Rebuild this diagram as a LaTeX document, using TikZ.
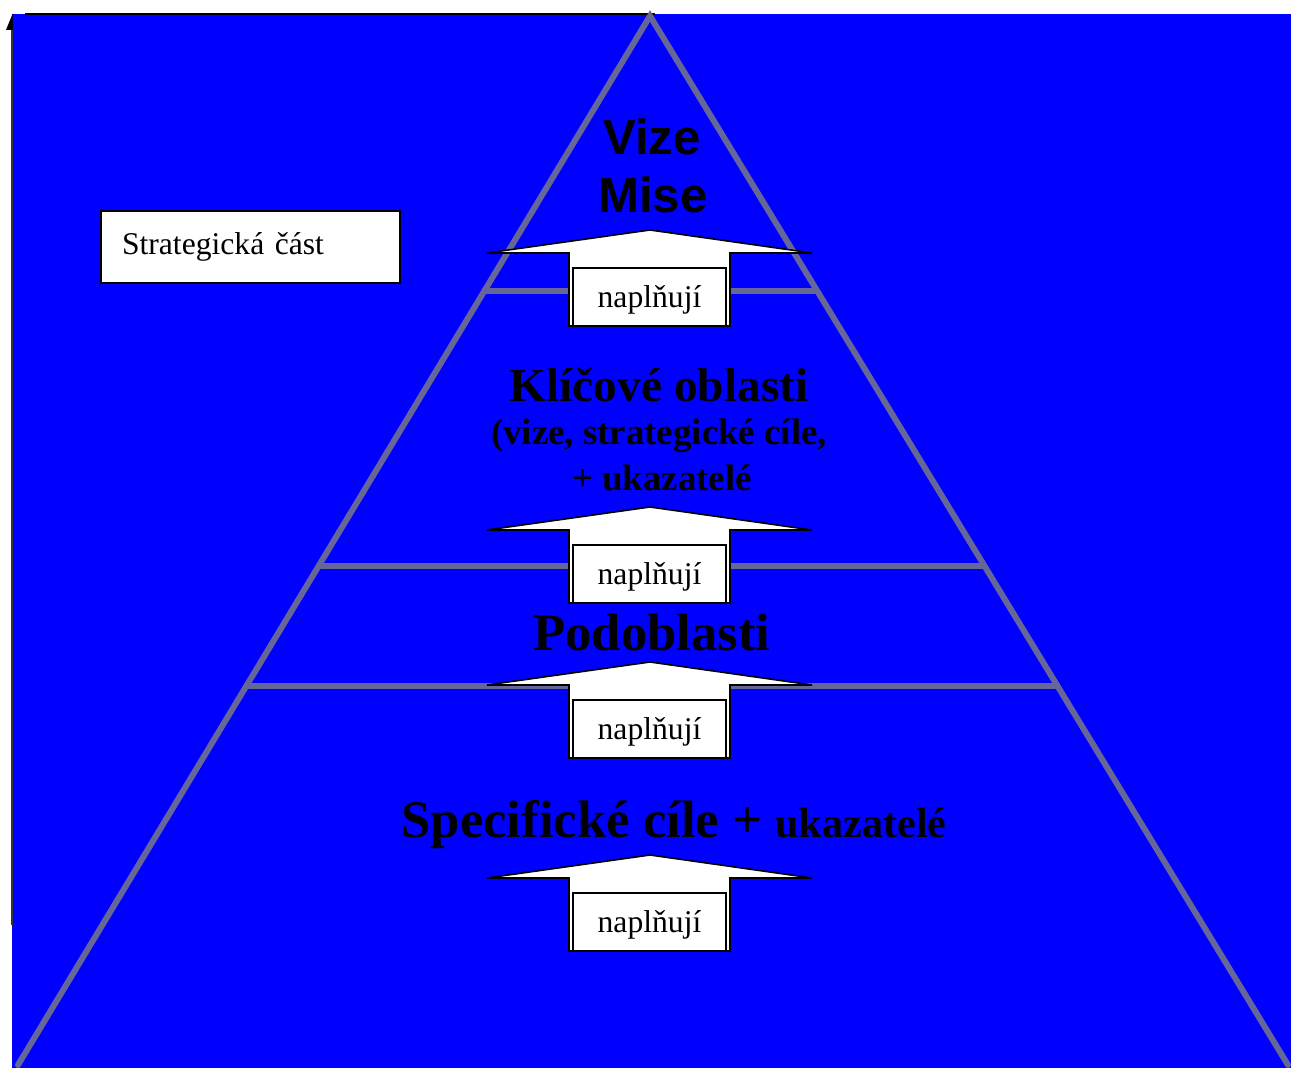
\documentclass[tikz,border=0pt]{standalone}
\usepackage{fontspec}
\setmainfont{Liberation Serif}
\newfontfamily\sansbf{Liberation Sans}
\usetikzlibrary{calc,positioning}
\definecolor{pyrblue}{RGB}{0,0,255}
\definecolor{pyrgray}{RGB}{102,102,153}

\begin{document}
\begin{tikzpicture}[x=0.02cm,y=-0.02cm,
    edge/.style={draw=pyrgray,line width=3.4pt,line cap=round},
    upbox/.style={draw=black,fill=white,line width=0.9pt},
    fillbox/.style={draw=black,fill=white,line width=0.7pt,
        minimum width=3.06cm,minimum height=1.16cm,inner sep=0pt,
        text height=12pt,text depth=0pt,
        font=\fontsize{18}{20}\selectfont},
    level/.style={font=\bfseries\fontsize{27}{30}\selectfont}]

\useasboundingbox (0,0) rectangle (1291,1068);
\fill[pyrblue] (12,14) rectangle (1291,1068);
\draw[black,line width=1.1pt] (25,14) -- (655,14);
\draw[black!80,line width=0.6pt] (12,30) -- (12,925);
\fill[black] (6,30) -- (12.5,14) -- (13,30) -- cycle;

% pyramid
\coordinate (top) at (650,16);
\coordinate (bl) at (18,1065);
\coordinate (br) at (1288,1065);
\draw[edge] (bl) -- (top) -- (br);
\draw[edge] ($(top)!0.262!(bl)$) -- ($(top)!0.262!(br)$);
\draw[edge] ($(top)!0.524!(bl)$) -- ($(top)!0.524!(br)$);
\draw[edge] ($(top)!0.639!(bl)$) -- ($(top)!0.639!(br)$);

% arrows
\foreach \y/\n in {230/1,507/2,662/3,855/4}{
  \draw[upbox] (487,\y+23) -- (650,\y) -- (812,\y+23) -- (730,\y+23)
      -- (730,\y+96) -- (569,\y+96) -- (569,\y+23) -- cycle;
  \node[fillbox] (fill\n) at (649.5,\y+67) {naplňují};
}

\node[font=\sansbf\bfseries\fontsize{28}{30}\selectfont] (vize) at (652,137) {Vize};
\node[font=\sansbf\bfseries\fontsize{28}{30}\selectfont] (mise) at (653,195) {Mise};

\node[level] (klic) at (659,385) {Klíčové oblasti};
\node[level,font=\bfseries\fontsize{21}{24}\selectfont] (klic2) at (659,436) {(vize, strategické cíle,};
\node[level,font=\bfseries\fontsize{21}{24}\selectfont] (klic3) at (662,478) {+ ukazatelé};
\node[level,font=\bfseries\fontsize{30}{32}\selectfont] (podo) at (652,632) {Podoblasti};
\node[level,font=\bfseries\fontsize{30}{32}\selectfont] (spec) at (674,825)
    {Specifické cíle + {\fontsize{24}{26}\selectfont ukazatelé}};

\node[draw=black,fill=white,line width=0.8pt,minimum width=5.98cm,minimum height=1.44cm,
    text width=5.14cm,inner xsep=0.42cm,align=left,font=\fontsize{18}{20}\selectfont]
    (part) at (250.5,247) {Strategická část\\[-2pt]};
\end{tikzpicture}
\end{document}
